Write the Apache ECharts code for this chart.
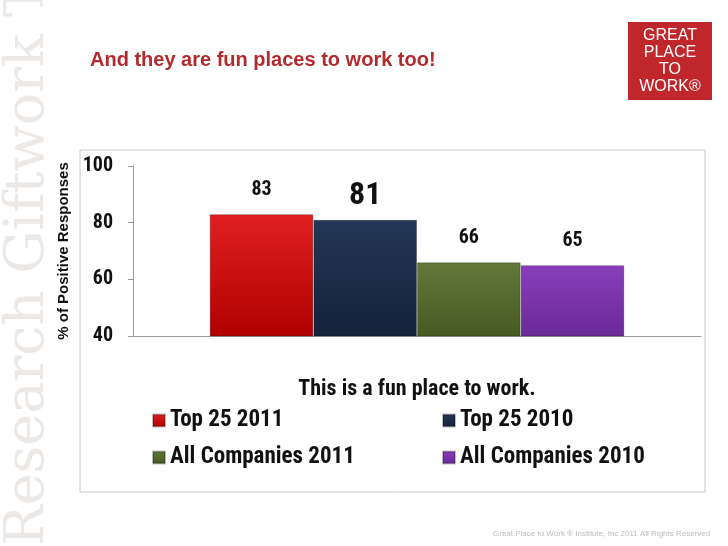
<!DOCTYPE html><html><head><meta charset="utf-8"><script src="https://cdn.jsdelivr.net/npm/echarts@6/dist/echarts.min.js"></script>
<style>html,body{margin:0;padding:0;background:#fff}#c{width:728px;height:546px}</style></head><body><div id="c"></div><script>
const categories=["This is a fun place to work."];
const seriesNames=["Top 25 2011","Top 25 2010","All Companies 2011","All Companies 2010"];
const values=[83,81,66,65];
const colors=[["#e02020","#b00000"],["#243756","#14223a"],["#62793a","#465a22"],["#8a3dbb","#6a2a98"]];
const NF='"Liberation Sans Narrow","Roboto Condensed","Noto Sans",sans-serif';
const ch=echarts.init(document.getElementById('c'));
const series=seriesNames.map((n,i)=>({name:n,type:'bar',data:[values[i]],barGap:'0%',barCategoryGap:'27%',
 itemStyle:{color:new echarts.graphic.LinearGradient(0,0,0,1,[{offset:0,color:colors[i][0]},{offset:1,color:colors[i][1]}]),borderColor:'rgba(0,0,0,0.25)',borderWidth:1},
 label:{show:true,position:'top',distance:i===1?8:14,color:'#111',fontFamily:NF,fontWeight:'bold',fontSize:i===1?32:20}}));
const legPos=[[147,404],[437,404],[147,441],[437,441]];
ch.setOption({animation:false,
 graphic:[
  {type:'text',rotation:Math.PI/2,x:2,y:546,style:{text:'Research Giftwork Trust Journey',fill:'#ece8e5',font:'54px "DejaVu Serif",serif'},z:-1},
  {type:'rect',shape:{x:80,y:150,width:625,height:342},style:{fill:'#fff',stroke:'#c8c8c8',lineWidth:1},z:-1},
  {type:'text',x:90,y:50,style:{text:'And they are fun places to work too!',fill:'#b22a2e',font:'bold 20px "Liberation Sans",Arial,sans-serif'}},
  {type:'rect',shape:{x:628,y:22,width:84,height:78},style:{fill:'#c0272d'}},
  {type:'text',x:670,y:61,style:{text:'GREAT\nPLACE\nTO\nWORK®',fill:'#fff',align:'center',verticalAlign:'middle',lineHeight:17,font:'16px "Liberation Sans Narrow",sans-serif'}},
  {type:'text',x:493,y:530,style:{text:'Great Place to Work ® Institute, Inc 2011 All Rights Reserved',fill:'#bbb',font:'8px "Liberation Sans",sans-serif'}}
 ],
 grid:{left:133,right:27,top:166,bottom:210},
 xAxis:{type:'category',data:categories,axisTick:{show:false},axisLabel:{show:false},axisLine:{lineStyle:{color:'#999'}},
  name:categories[0],nameLocation:'middle',nameGap:42,nameTextStyle:{fontFamily:NF,fontWeight:'bold',fontSize:22,color:'#111'}},
 yAxis:{type:'value',min:40,max:100,interval:20,axisLine:{show:true,lineStyle:{color:'#999'}},axisTick:{show:true,lineStyle:{color:'#999'}},
  splitLine:{show:false},axisLabel:{fontFamily:NF,fontWeight:'bold',fontSize:20,color:'#111',margin:20},
  name:'% of Positive Responses',nameLocation:'middle',nameGap:60,nameTextStyle:{fontFamily:'"Liberation Sans",sans-serif',fontWeight:'bold',fontSize:15,color:'#111'}},
 legend:seriesNames.map((n,i)=>({data:[n],left:legPos[i][0],top:legPos[i][1],itemGap:4,itemWidth:12,itemHeight:12,icon:'rect',
  textStyle:{fontFamily:NF,fontWeight:'bold',fontSize:23,color:'#111'}})),
 series});
</script></body></html>
